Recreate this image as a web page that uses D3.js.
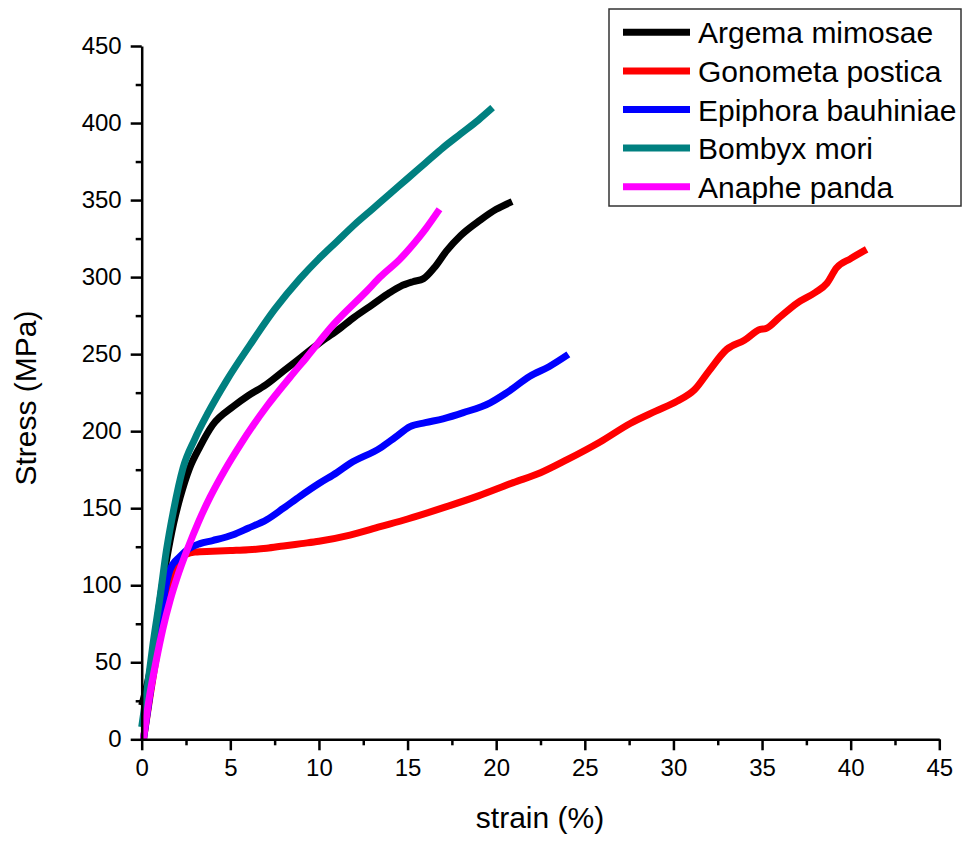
<!DOCTYPE html>
<html>
<head>
<meta charset="utf-8">
<script src="https://cdn.jsdelivr.net/npm/d3@7"></script>
<style>
  body { margin: 0; background: #fff; }
  text { font-family: "Liberation Sans", Arial, sans-serif; }
</style>
</head>
<body>
<svg width="963" height="844"></svg>
<script>
let svg = d3.select("svg");

// strain (%) / stress (MPa) pairs
let argema = [[0,22],[0.56,50],[1.13,98],[1.41,117],[1.8,140],[2.17,157],[2.7,176],[3.29,190],[4,204],[5.16,216],[6,223],[7,230],[8,239],[9,248],[10,257],[11,265],[12,274],[13,282],[14,290],[14.6,294],[15.3,297],[15.9,299],[16.5,306],[17.2,317],[18,327],[19.1,337],[20,344],[20.9,349]];
let gonometa = [[0.1,0],[0.5,30],[1,65],[1.5,95],[2,112],[2.5,120],[3,121.5],[4,122],[5,122.5],[6,123],[7.05,124],[8,125.5],[9,127],[10,128.5],[11.75,132.5],[13.45,138],[15,143],[17.2,151],[19,158],[20.96,166.6],[22.5,173],[24,181.5],[25.86,193],[27.56,205],[29,213],[30.2,219.4],[31.2,227],[32,239],[33,253],[34,259],[34.9,266],[35.2,266.5],[36,274],[36.96,283],[38,290],[38.66,296],[39.2,306],[40,312],[40.9,318]];
let epiphora = [[0.1,0],[0.5,32],[1,70],[1.3,95],[1.6,110],[2.17,118.7],[2.7,124],[3.29,127],[4,129],[5.16,132.8],[6,137],[7.05,142.5],[8,150],[8.93,157.7],[10,166],[11,173],[11.75,179],[13.45,189],[14.3,196],[15.14,203],[16,205.5],[17,208],[18.15,212],[19.66,218.4],[20.6,225],[21.9,235.7],[23,242],[24.07,249.8]];
let bombyx = [[0,8],[0.3,32],[0.64,62],[1.03,92],[1.4,123],[1.77,147],[2.33,176],[3,195],[3.7,211],[4.8,233],[6.11,256],[7.5,279],[8.93,299],[10,312],[11,323],[12,334],[13,344],[14,354],[15,364],[16,374],[17,384],[18,393],[19,402],[19.8,410]];
let anaphe = [[0.1,0],[0.4,25],[0.8,50],[1.2,72],[1.6,90],[2.0,105],[2.6,124],[3.2,141],[3.85,157],[4.7,175],[5.55,191],[6.3,204],[7.05,216],[8.37,235],[9.31,248],[10.8,269],[12.7,291],[13.45,300],[14.6,312],[15.3,321],[16.0,331],[16.8,344]];

let seriesNames = ["Argema mimosae", "Gonometa postica", "Epiphora bauhiniae", "Bombyx mori", "Anaphe panda"];
let seriesData = [argema, gonometa, epiphora, bombyx, anaphe];
let colors = ["#000000", "#ff0000", "#0000ff", "#008080", "#ff00ff"];

let xTicks = [0,5,10,15,20,25,30,35,40,45];
let yTicks = [0,50,100,150,200,250,300,350,400,450];

let x = d3.scaleLinear().domain([0, 45]).range([141.7, 939.3]);
let y = d3.scaleLinear().domain([0, 450]).range([739.3, 46]);

let line = d3.line()
    .x(function(d) { return x(d[0]); })
    .y(function(d) { return y(d[1]); })
    .curve(d3.curveMonotoneX);

// curves, in legend order so the later ones sit on top
svg.append("g")
    .selectAll("path")
    .data(seriesData)
    .enter().append("path")
    .attr("d", line)
    .attr("fill", "none")
    .attr("stroke", function(d, i) { return colors[i]; })
    .attr("stroke-width", 7)
    .attr("stroke-linejoin", "round");

// minor ticks first, then the labelled axes over them
let xMinor = d3.range(2.5, 45, 5);
let yMinor = d3.range(25, 450, 50);

svg.append("g")
    .attr("transform", "translate(0," + y(0) + ")")
    .call(d3.axisBottom(x).tickValues(xMinor).tickSize(6).tickFormat(""))
    .call(function(g) { g.select(".domain").remove(); });
svg.append("g")
    .attr("transform", "translate(" + x(0) + ",0)")
    .call(d3.axisLeft(y).tickValues(yMinor).tickSize(6).tickFormat(""))
    .call(function(g) { g.select(".domain").remove(); });

let xAxis = svg.append("g")
    .attr("transform", "translate(0," + y(0) + ")")
    .call(d3.axisBottom(x).tickValues(xTicks).tickSize(11).tickSizeOuter(0).tickPadding(9));
let yAxis = svg.append("g")
    .attr("transform", "translate(" + x(0) + ",0)")
    .call(d3.axisLeft(y).tickValues(yTicks).tickSize(11).tickSizeOuter(0).tickPadding(9));

svg.selectAll(".tick line").attr("stroke", "#000").attr("stroke-width", 2.5);
svg.selectAll(".domain").attr("stroke", "#000").attr("stroke-width", 2.5);
svg.selectAll(".tick text")
    .attr("font-family", "Liberation Sans, Arial, sans-serif")
    .attr("font-size", 24)
    .attr("fill", "#000");

// axis titles
svg.append("text")
    .attr("x", 540)
    .attr("y", 828)
    .attr("text-anchor", "middle")
    .attr("font-size", 30)
    .text("strain (%)");

svg.append("text")
    .attr("transform", "translate(36,398) rotate(-90)")
    .attr("text-anchor", "middle")
    .attr("font-size", 30)
    .text("Stress (MPa)");

// legend
let legend = svg.append("g");
legend.append("rect")
    .attr("x", 609)
    .attr("y", 9)
    .attr("width", 352)
    .attr("height", 197)
    .attr("fill", "#fff")
    .attr("stroke", "#333")
    .attr("stroke-width", 1.5);

let rows = legend.selectAll("g.row")
    .data(seriesNames)
    .enter().append("g")
    .attr("class", "row")
    .attr("transform", function(d, i) { return "translate(0," + (32.3 + i * 38.6) + ")"; });

rows.append("line")
    .attr("x1", 623).attr("x2", 690)
    .attr("y1", 0).attr("y2", 0)
    .attr("stroke", function(d, i) { return colors[i]; })
    .attr("stroke-width", 7);

rows.append("text")
    .attr("x", 698)
    .attr("y", 11)
    .attr("font-size", 30)
    .attr("fill", "#000")
    .text(function(d) { return d; });
</script>
</body>
</html>
